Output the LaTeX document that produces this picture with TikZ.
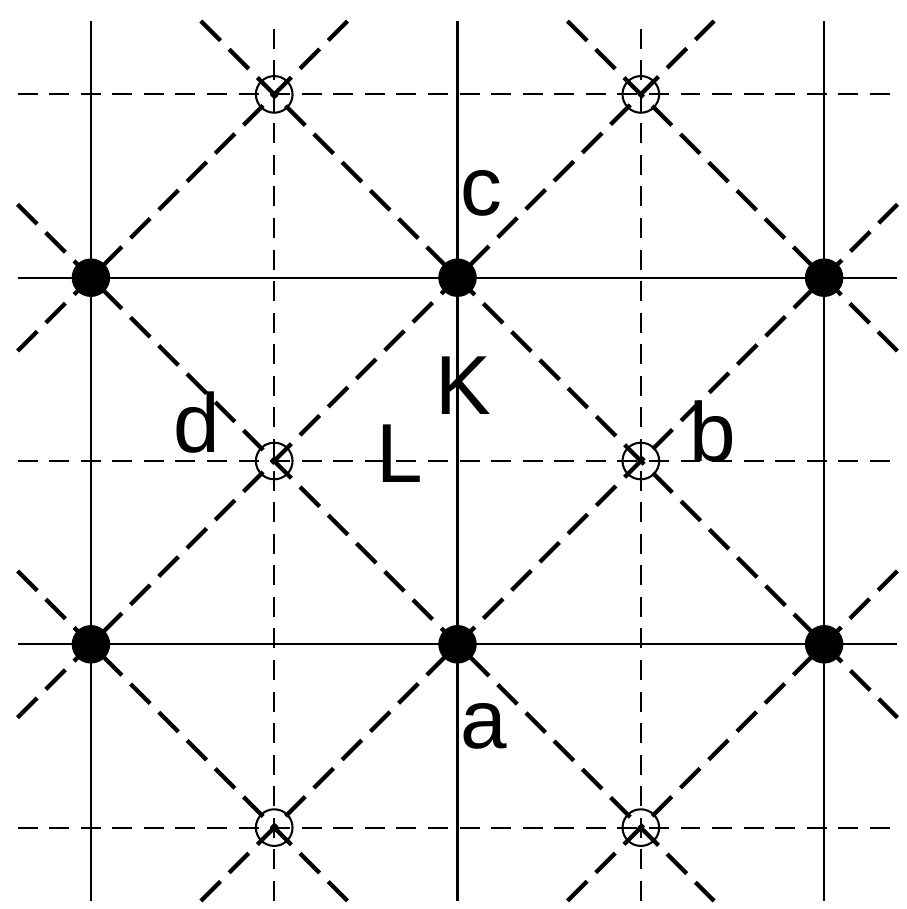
\documentclass[tikz,border=0pt]{standalone}
\usepackage{fontspec}
\setmainfont{Liberation Sans}
\begin{document}
\begin{tikzpicture}[x=1cm,y=1cm,
  solidline/.style={line width=0.32pt},
  griddash/.style={line width=0.32pt, dash pattern=on 3.1pt off 1.8pt},
  diag/.style={line width=0.66pt, dash pattern=on 4.3pt off 1.9pt},
  fdot/.style={circle, fill=black, inner sep=0pt, minimum size=0.21cm},
  odot/.style={circle, draw=black, line width=0.32pt, inner sep=0pt, minimum size=0.2cm},
  lab/.style={font=\fontsize{13}{13}\selectfont, inner sep=0pt, anchor=base}]
\useasboundingbox (-2.496,-2.444) rectangle (2.452,2.515);
% grid
\foreach \x in {-2,0,2} \draw[solidline] (\x,-2.4) -- (\x,2.4);
\foreach \y in {-1,1} \draw[solidline] (-2.4,\y) -- (2.4,\y);
\foreach \x in {-1,1} \draw[griddash] (\x,-2.4) -- (\x,2.4);
\foreach \y in {-2,0,2} \draw[griddash] (-2.4,\y) -- (2.4,\y);
% diagonal ends
\coordinate (p1a) at (-2.4,0.6);  \coordinate (p1b) at (-0.6,2.4);
\coordinate (p2a) at (-2.4,-1.4); \coordinate (p2b) at (1.4,2.4);
\coordinate (p3a) at (-1.4,-2.4); \coordinate (p3b) at (2.4,1.4);
\coordinate (p4a) at (0.6,-2.4);  \coordinate (p4b) at (2.4,-0.6);
\coordinate (m1a) at (-2.4,-0.6); \coordinate (m1b) at (-0.6,-2.4);
\coordinate (m2a) at (-2.4,1.4);  \coordinate (m2b) at (1.4,-2.4);
\coordinate (m3a) at (-1.4,2.4);  \coordinate (m3b) at (2.4,-1.4);
\coordinate (m4a) at (0.6,2.4);   \coordinate (m4b) at (2.4,0.6);
\foreach \n in {p1,p2,p3,p4,m1,m2,m3,m4} \draw[diag] (\n a) -- (\n b);
% open circles
\node[odot] (o1) at (-1,2) {};
\node[odot] (o2) at (1,2) {};
\node[odot] (o3) at (-1,0) {};
\node[odot] (o4) at (1,0) {};
\node[odot] (o5) at (-1,-2) {};
\node[odot] (o6) at (1,-2) {};
% filled dots
\node[fdot] (f1) at (-2,1) {};
\node[fdot] (f2) at (0,1) {};
\node[fdot] (f3) at (2,1) {};
\node[fdot] (f4) at (-2,-1) {};
\node[fdot] (f5) at (0,-1) {};
\node[fdot] (f6) at (2,-1) {};
% labels
\node[lab] (lc) at (0.128,1.337) {c};
\node[lab] (lK) at (0.030,0.251) {K};
\node[lab] (ld) at (-1.421,0.044) {d};
\node[lab] (lL) at (-0.314,-0.120) {L};
\node[lab] (lb) at (1.394,-0.005) {b};
\node[lab] (la) at (0.145,-1.571) {a};
\end{tikzpicture}
\end{document}
